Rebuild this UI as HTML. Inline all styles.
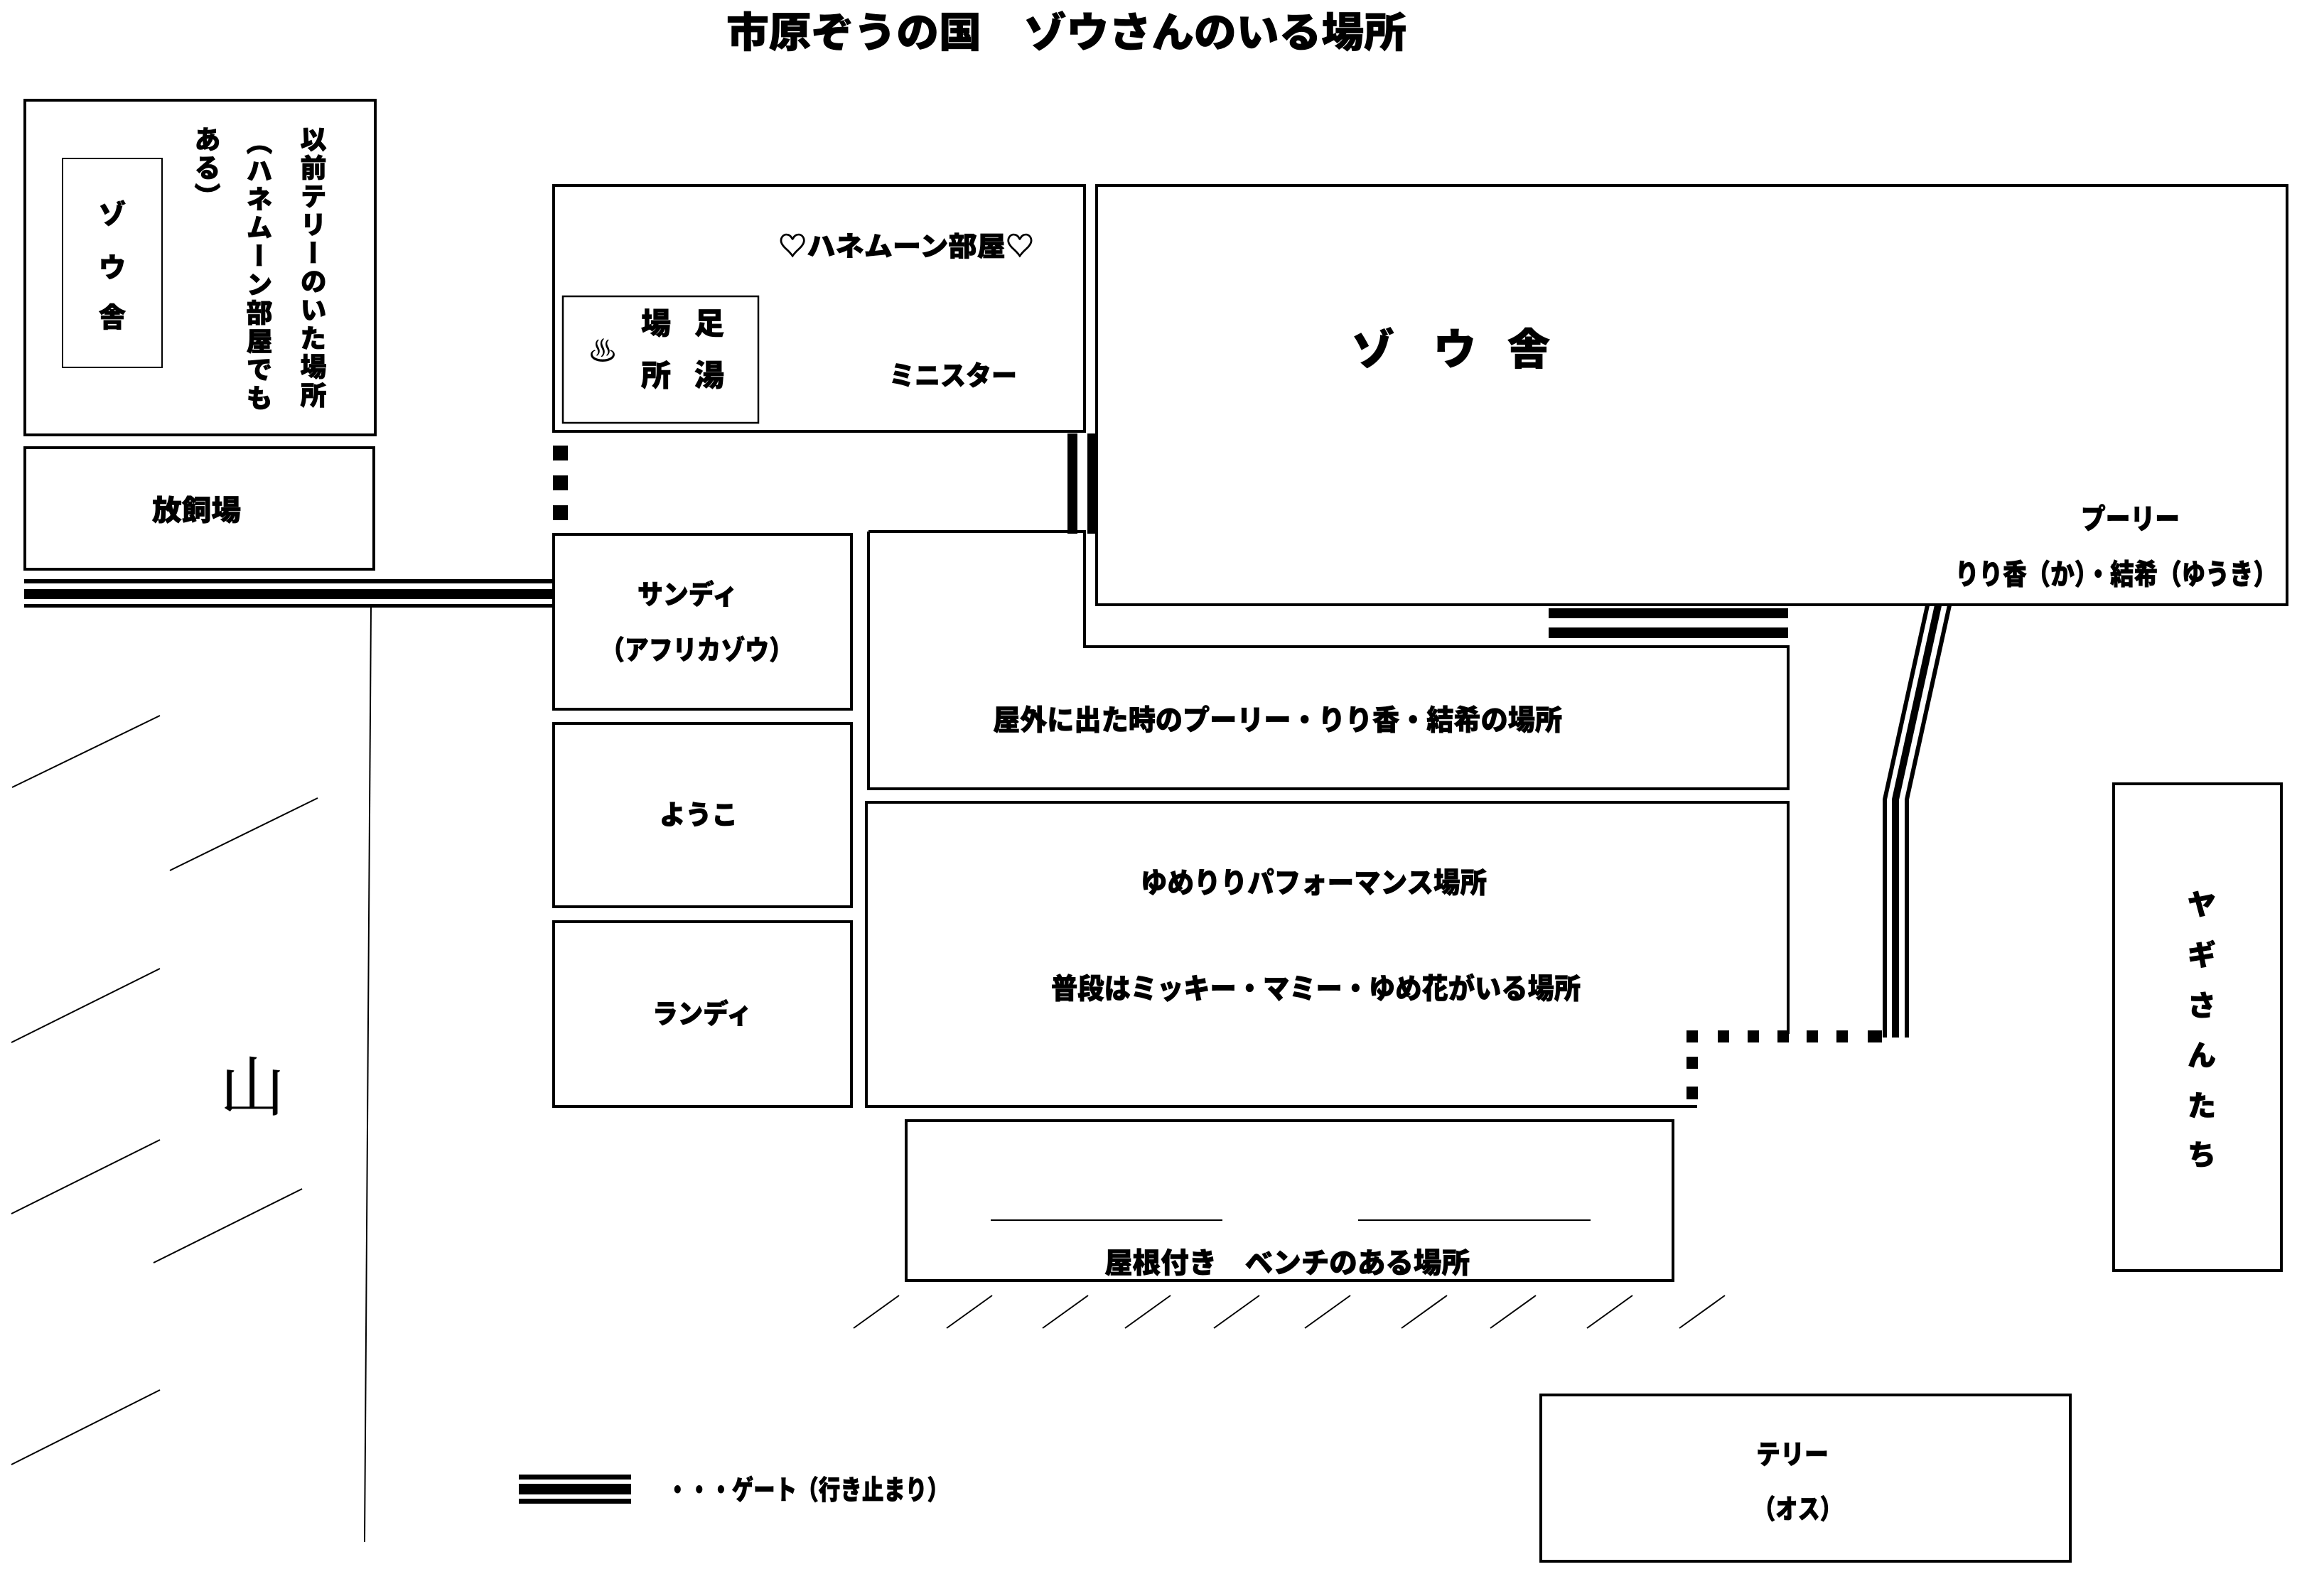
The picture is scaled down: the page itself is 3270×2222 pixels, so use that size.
<!DOCTYPE html>
<html><head><meta charset="utf-8">
<style>
html,body{margin:0;padding:0;background:#fff;}
body{width:3270px;height:2222px;position:relative;overflow:hidden;}
svg{position:absolute;left:0;top:0;}
text{font-family:"Liberation Sans","Noto Sans CJK JP",sans-serif;font-weight:900;fill:#000;stroke:#000;stroke-width:0.8px;}
.v{position:absolute;writing-mode:vertical-rl;font-family:"Noto Sans CJK JP",sans-serif;font-weight:900;font-size:37px;line-height:1;letter-spacing:3px;color:#000;-webkit-text-stroke:0.8px #000;}
</style></head><body>
<svg width="3270" height="2222" viewBox="0 0 3270 2222" xmlns="http://www.w3.org/2000/svg">
<g fill="none" stroke="#000">
 <rect x="35" y="141" width="493" height="471" stroke-width="4"/>
 <rect x="88" y="223" width="140" height="294" stroke-width="2"/>
 <rect x="35" y="630" width="491" height="171" stroke-width="4"/>
 <rect x="779" y="261" width="747" height="346" stroke-width="4"/>
 <rect x="792" y="417" width="275" height="178" stroke-width="2.5"/>
 <rect x="1543" y="261" width="1675" height="590" stroke-width="4"/>
 <polyline points="1222,748 1526,748 1526,910 2516,910 2516,1110 1222,1110 1222,748" stroke-width="4"/>
 <polyline points="2516,1455 2516,1129 1219,1129 1219,1557 2388,1557" stroke-width="4"/>
 <rect x="779" y="752" width="419" height="246" stroke-width="4"/>
 <rect x="779" y="1018" width="419" height="258" stroke-width="4"/>
 <rect x="779" y="1297" width="419" height="260" stroke-width="4"/>
 <rect x="1275" y="1577" width="1079" height="225" stroke-width="4"/>
 <line x1="1394" y1="1717" x2="1720" y2="1717" stroke-width="2"/>
 <line x1="1911" y1="1717" x2="2238" y2="1717" stroke-width="2"/>
 <rect x="2974" y="1103" width="236" height="685" stroke-width="4"/>
 <rect x="2168" y="1963" width="745" height="234" stroke-width="4"/>
 <line x1="522" y1="855" x2="513" y2="2170" stroke-width="2"/>
 <g stroke-width="2">
  <line x1="225" y1="1007" x2="17" y2="1108"/>
  <line x1="447" y1="1123" x2="239" y2="1225"/>
  <line x1="225" y1="1363" x2="16" y2="1467"/>
  <line x1="225" y1="1604" x2="16" y2="1708"/>
  <line x1="425" y1="1673" x2="216" y2="1777"/>
  <line x1="225" y1="1956" x2="16" y2="2061"/>
  <line x1="1265" y1="1823" x2="1201" y2="1869"/>
  <line x1="1396" y1="1823" x2="1332" y2="1869"/>
  <line x1="1531" y1="1823" x2="1467" y2="1869"/>
  <line x1="1647" y1="1823" x2="1583" y2="1869"/>
  <line x1="1772" y1="1823" x2="1708" y2="1869"/>
  <line x1="1900" y1="1823" x2="1836" y2="1869"/>
  <line x1="2036" y1="1823" x2="1972" y2="1869"/>
  <line x1="2161" y1="1823" x2="2097" y2="1869"/>
  <line x1="2297" y1="1823" x2="2233" y2="1869"/>
  <line x1="2427" y1="1823" x2="2363" y2="1869"/>
 </g>
 <polyline points="2712,852 2652,1125 2652,1460" stroke-width="6"/>
 <polyline points="2727,852 2667,1125 2667,1460" stroke-width="10"/>
 <polyline points="2743,852 2683,1125 2683,1460" stroke-width="6"/>
</g>
<g fill="#000">
 <rect x="34" y="815" width="743" height="6"/>
 <rect x="34" y="829" width="743" height="14"/>
 <rect x="34" y="850" width="743" height="5"/>
 <rect x="1502" y="610" width="14" height="141"/>
 <rect x="1530" y="610" width="15" height="141"/>
 <rect x="2179" y="856" width="337" height="14"/>
 <rect x="2179" y="883" width="337" height="15"/>
 <rect x="778" y="627" width="21" height="21"/>
 <rect x="778" y="669" width="21" height="21"/>
 <rect x="778" y="711" width="21" height="21"/>
 <rect x="2373" y="1450" width="16" height="17"/>
 <rect x="2417" y="1450" width="16" height="17"/>
 <rect x="2459" y="1450" width="16" height="17"/>
 <rect x="2501" y="1450" width="16" height="17"/>
 <rect x="2542" y="1450" width="16" height="17"/>
 <rect x="2584" y="1450" width="16" height="17"/>
 <rect x="2628" y="1450" width="20" height="17"/>
 <rect x="2373" y="1487" width="16" height="17"/>
 <rect x="2373" y="1529" width="16" height="18"/>
 <rect x="730" y="2075" width="158" height="7"/>
 <rect x="730" y="2088" width="158" height="15"/>
 <rect x="730" y="2109" width="158" height="7"/>
</g>
<text x="1022" y="66" font-size="58" textLength="957" lengthAdjust="spacingAndGlyphs">市原ぞうの国　ゾウさんのいる場所</text>
<text x="158" y="315" font-size="38" text-anchor="middle">ゾ</text>
<text x="158" y="390" font-size="38" text-anchor="middle">ウ</text>
<text x="158" y="460" font-size="38" text-anchor="middle">舎</text>
<text x="214" y="732" font-size="40" textLength="125" lengthAdjust="spacingAndGlyphs">放飼場</text>
<text x="1095" y="360" font-size="38" textLength="360" lengthAdjust="spacingAndGlyphs">♡ハネムーン部屋♡</text>
<text x="848" y="508" font-size="40" text-anchor="middle" style="font-weight:400;stroke-width:0">♨</text>
<text x="923" y="470" font-size="42" text-anchor="middle">場</text>
<text x="998" y="470" font-size="42" text-anchor="middle">足</text>
<text x="923" y="543" font-size="42" text-anchor="middle">所</text>
<text x="998" y="543" font-size="42" text-anchor="middle">湯</text>
<text x="1251" y="542" font-size="38" textLength="180" lengthAdjust="spacingAndGlyphs">ミニスター</text>
<text x="1932" y="513" font-size="60" text-anchor="middle">ゾ</text>
<text x="2047" y="513" font-size="60" text-anchor="middle">ウ</text>
<text x="2151" y="513" font-size="60" text-anchor="middle">舎</text>
<text x="2928" y="744" font-size="40" textLength="139" lengthAdjust="spacingAndGlyphs">プーリー</text>
<text x="2751" y="822" font-size="40" textLength="453" lengthAdjust="spacingAndGlyphs">りり香（か）・結希（ゆうき）</text>
<text x="897" y="850" font-size="38" textLength="141" lengthAdjust="spacingAndGlyphs">サンディ</text>
<text x="845" y="928" font-size="38" textLength="271" lengthAdjust="spacingAndGlyphs">（アフリカゾウ）</text>
<text x="928" y="1160" font-size="38" textLength="110" lengthAdjust="spacingAndGlyphs">ようこ</text>
<text x="918" y="1440" font-size="38" textLength="140" lengthAdjust="spacingAndGlyphs">ランディ</text>
<text x="1397" y="1027" font-size="40" textLength="801" lengthAdjust="spacingAndGlyphs">屋外に出た時のプーリー・りり香・結希の場所</text>
<text x="1605" y="1256" font-size="40" textLength="487" lengthAdjust="spacingAndGlyphs">ゆめりりパフォーマンス場所</text>
<text x="1479" y="1405" font-size="40" textLength="745" lengthAdjust="spacingAndGlyphs">普段はミッキー・マミー・ゆめ花がいる場所</text>
<text x="1554" y="1791" font-size="40" textLength="514" lengthAdjust="spacingAndGlyphs">屋根付き　ベンチのある場所</text>
<text x="2471" y="2060" font-size="38" textLength="102" lengthAdjust="spacingAndGlyphs">テリー</text>
<text x="2467" y="2137" font-size="38" textLength="125" lengthAdjust="spacingAndGlyphs">（オス）</text>
<text x="938" y="2110" font-size="38" textLength="397" lengthAdjust="spacingAndGlyphs">・・・ゲート（行き止まり）</text>
<text x="3098" y="1287" font-size="40" text-anchor="middle">ヤ</text>
<text x="3098" y="1358" font-size="40" text-anchor="middle">ギ</text>
<text x="3098" y="1429" font-size="40" text-anchor="middle">さ</text>
<text x="3098" y="1499" font-size="40" text-anchor="middle">ん</text>
<text x="3098" y="1570" font-size="40" text-anchor="middle">た</text>
<text x="3098" y="1639" font-size="40" text-anchor="middle">ち</text>
<text x="355" y="1562" font-size="92" text-anchor="middle" style="font-family:'Noto Serif CJK SC',serif;font-weight:400;stroke-width:0.5px">山</text>
</svg>
<div class="v" style="left:422px;top:177px;">以前テリーのいた場所</div>
<div class="v" style="left:346px;top:181px;">（ハネムーン部屋でも</div>
<div class="v" style="left:273px;top:177px;">ある）</div>
</body></html>
